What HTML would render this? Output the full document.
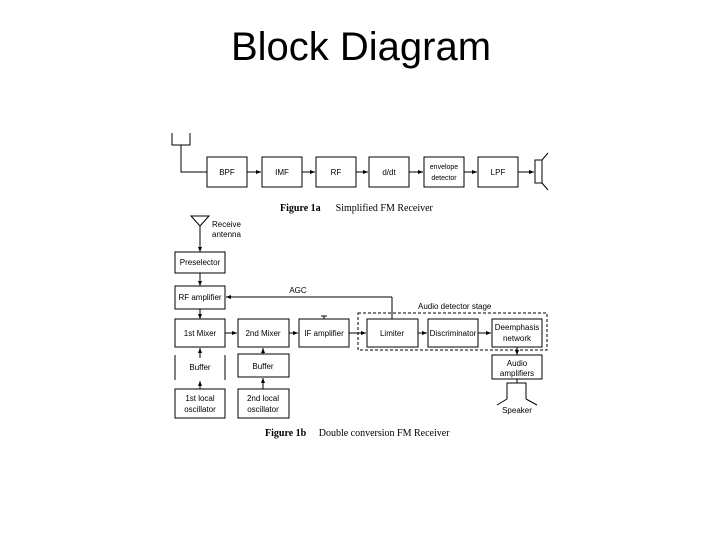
<!DOCTYPE html>
<html><head><style>
body{margin:0;width:720px;height:540px;background:#fff;overflow:hidden;font-family:"Liberation Sans",sans-serif}
h1{position:absolute;top:25px;left:0;width:722px;text-align:center;margin:0;font-weight:normal;font-size:40px;color:#000}
svg{position:absolute;left:0;top:0}
</style></head><body>
<h1>Block Diagram</h1>
<svg width="720" height="540" font-family="Liberation Sans, sans-serif" font-size="8">
<defs><marker id="a" markerWidth="6" markerHeight="6" refX="5" refY="3" orient="auto"><path d="M0,1 L5,3 L0,5z" fill="#000"/></marker></defs>
<g stroke="#000" fill="none" stroke-width="1">
<path d="M172,133 V145 H190 V133 M181,145 V172 H207"/>
<rect x="207" y="157" width="40" height="30"/>
<rect x="262" y="157" width="40" height="30"/>
<rect x="316" y="157" width="40" height="30"/>
<rect x="369" y="157" width="40" height="30"/>
<rect x="424" y="157" width="40" height="30"/>
<rect x="478" y="157" width="40" height="30"/>
<rect x="535" y="160" width="7" height="23"/>
<path d="M542,160 L548,153 M542,183 L548,190"/>
<path d="M247,172 H261" marker-end="url(#a)"/>
<path d="M302,172 H315" marker-end="url(#a)"/>
<path d="M356,172 H368" marker-end="url(#a)"/>
<path d="M409,172 H423" marker-end="url(#a)"/>
<path d="M464,172 H477" marker-end="url(#a)"/>
<path d="M518,172 H534" marker-end="url(#a)"/>
<path d="M191,216 H209 L200,226 Z M200,226 V250" />
<path d="M200,240 V252" marker-end="url(#a)"/>
<rect x="175" y="252" width="50" height="21"/>
<path d="M200,273 V286" marker-end="url(#a)"/>
<rect x="175" y="286" width="50" height="23"/>
<path d="M392,297 H226" marker-end="url(#a)"/>
<path d="M392,297 V319"/>
<path d="M200,309 V319" marker-end="url(#a)"/>
<rect x="175" y="319" width="50" height="28"/>
<rect x="238" y="319" width="51" height="28"/>
<rect x="299" y="319" width="50" height="28"/>
<rect x="367" y="319" width="51" height="28"/>
<rect x="428" y="319" width="50" height="28"/>
<rect x="492" y="319" width="50" height="28"/>
<rect x="358" y="313" width="189" height="37" stroke-dasharray="3,2"/>
<path d="M225,333 H237" marker-end="url(#a)"/>
<path d="M289,333 H298" marker-end="url(#a)"/>
<path d="M349,333 H366" marker-end="url(#a)"/>
<path d="M418,333 H427" marker-end="url(#a)"/>
<path d="M478,333 H491" marker-end="url(#a)"/>
<path d="M324,316 V319 M321,316 H327"/>
<path d="M200,358 V348" marker-end="url(#a)"/>
<path d="M175,355 V380 M225,355 V380"/>
<path d="M200,389 V381" marker-end="url(#a)"/>
<rect x="175" y="389" width="50" height="29"/>
<path d="M263,354 V348" marker-end="url(#a)"/>
<rect x="238" y="354" width="51" height="23"/>
<path d="M263,389 V378" marker-end="url(#a)"/>
<rect x="238" y="389" width="51" height="29"/>
<path d="M517,347 V355" marker-end="url(#a)"/>
<rect x="492" y="355" width="50" height="24"/>
<path d="M517,379 V383"/>
<path d="M507,399 V383 H526 V399 M507,399 L497,405 M526,399 L537,405"/>
</g>
<g fill="#000" text-anchor="middle">
<text x="227" y="175">BPF</text><text x="282" y="175">IMF</text><text x="336" y="175">RF</text><text x="389" y="175">d/dt</text>
<text x="444" y="169" font-size="7">envelope</text><text x="444" y="180" font-size="7">detector</text><text x="498" y="175">LPF</text>
<text x="200" y="265">Preselector</text><text x="200" y="300">RF amplifier</text><text x="200" y="336">1st Mixer</text>
<text x="263" y="336">2nd Mixer</text><text x="324" y="336">IF amplifier</text><text x="392" y="336">Limiter</text>
<text x="453" y="336">Discriminator</text><text x="517" y="330">Deemphasis</text><text x="517" y="341">network</text>
<text x="200" y="370">Buffer</text><text x="263" y="369">Buffer</text>
<text x="200" y="401">1st local</text><text x="200" y="412">oscillator</text>
<text x="263" y="401">2nd local</text><text x="263" y="412">oscillator</text>
<text x="517" y="366">Audio</text><text x="517" y="376">amplifiers</text><text x="517" y="413">Speaker</text>
<text x="298" y="293">AGC</text>
</g>
<g fill="#000">
<text x="212" y="227">Receive</text><text x="212" y="237">antenna</text>
<text x="418" y="309">Audio detector stage</text>
<text x="280" y="211" font-family="Liberation Serif, serif" font-size="10"><tspan font-weight="bold">Figure 1a</tspan>&#160;&#160;&#160;&#160;&#160;&#160;Simplified FM Receiver</text>
<text x="265" y="436" font-family="Liberation Serif, serif" font-size="10"><tspan font-weight="bold">Figure 1b</tspan>&#160;&#160;&#160;&#160;&#160;Double conversion FM Receiver</text>
</g>
</svg>
</body></html>
